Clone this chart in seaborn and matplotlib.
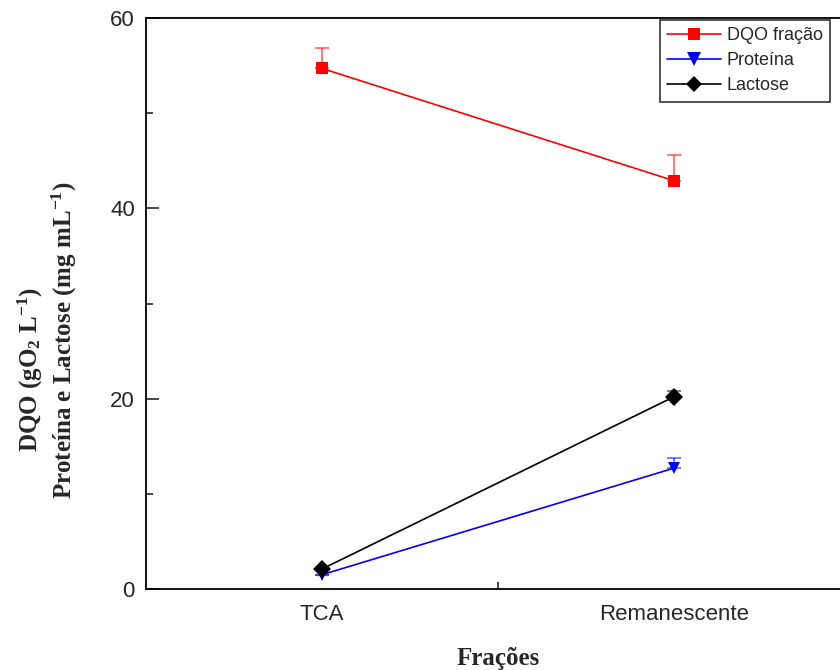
import numpy as np
import pandas as pd
import matplotlib.pyplot as plt
import seaborn as sns

fracoes = ["TCA", "Remanescente"]
dqo = [54.7, 42.9]
dqo_err = [2.1, 2.7]
proteina = [1.5, 12.7]
proteina_err = [0.0, 1.1]
lactose = [2.1, 20.2]
lactose_err = [0.0, 0.6]
series = ["DQO fração", "Proteína", "Lactose"]

df = pd.DataFrame({
    "Frações": fracoes * 3,
    "valor": dqo + proteina + lactose,
    "erro": dqo_err + proteina_err + lactose_err,
    "serie": np.repeat(series, 2),
})

sns.set_style("white")
plt.rcParams["font.family"] = ["Liberation Sans", "DejaVu Sans"]
plt.rcParams["mathtext.fontset"] = "custom"
plt.rcParams["mathtext.rm"] = "Liberation Serif:bold"
plt.rcParams["mathtext.bf"] = "Liberation Serif:bold"
plt.rcParams["mathtext.it"] = "Liberation Serif:bold"

colors = {"DQO fração": "#ff0000", "Proteína": "#0000ff", "Lactose": "#000000"}
markers = {"DQO fração": "s", "Proteína": "v", "Lactose": "D"}
sizes = {"DQO fração": 8.5, "Proteína": 10, "Lactose": 9}

fig = plt.figure(figsize=(8.4, 6.7), dpi=100)
ax = fig.add_axes([146 / 840, 1 - 589 / 670, 704 / 840, 571 / 670])

sns.lineplot(data=df, x="Frações", y="valor", hue="serie", style="serie",
             palette=colors, markers=markers, dashes=False, ax=ax,
             linewidth=1.2, markersize=9, markeredgewidth=0, legend=False)

# one-sided error bars
for s in series:
    sub = df[df["serie"] == s]
    xs = np.arange(len(sub))
    ax.errorbar(xs, sub["valor"], yerr=[np.zeros(len(sub)), sub["erro"]],
                fmt="none", ecolor=colors[s], alpha=0.5, capsize=5,
                elinewidth=1.5, capthick=1.5, zorder=1)

# legend handles
handles = [plt.Line2D([], [], color=colors[s], marker=markers[s],
                      markersize=sizes[s] - 0.5, markeredgewidth=0, lw=1.2)
           for s in series]
leg = fig.legend(handles, series, loc="upper left",
                 bbox_to_anchor=(660 / 840, 1 - 20 / 670), frameon=True,
                 fontsize=13, handlelength=3.0, borderpad=0.4, labelspacing=0.45,
                 handletextpad=0.3, fancybox=False, borderaxespad=0)
leg.get_frame().set_edgecolor("black")
leg.get_frame().set_linewidth(1.2)

ax.set_xlim(-0.5, 1.5)
ax.set_ylim(0, 60)
ax.set_yticks([0, 20, 40, 60])
ax.set_yticks([10, 30, 50], minor=True)
ax.set_xticks([0, 1])
ax.set_xticks([0.5], minor=True)
ax.set_xticklabels(fracoes)
ax.tick_params(axis="y", which="major", direction="in", left=True, length=9,
               width=1.2, labelsize=16, pad=8)
ax.tick_params(axis="y", which="minor", direction="in", left=True, length=5,
               width=1.2)
ax.tick_params(axis="x", which="major", bottom=False, labelsize=16, pad=7)
ax.tick_params(axis="x", which="minor", direction="in", bottom=True, length=5,
               width=1.2)
for sp in ax.spines.values():
    sp.set_color("black")
    sp.set_linewidth(1.3)

ax.set_ylabel("")
ax.set_xlabel("Frações", fontfamily="Liberation Serif", fontweight="bold",
              fontsize=18, labelpad=16)
fig.text(30 / 840, 1 - 370 / 670, "DQO (gO$_{2}$ L$^{-1}$)",
         rotation=90, ha="center", va="center", fontfamily="Liberation Serif",
         fontweight="bold", fontsize=18)
fig.text(64 / 840, 1 - 340 / 670,
         "Proteína e Lactose (mg mL$^{-1}$)",
         rotation=90, ha="center", va="center", fontfamily="Liberation Serif",
         fontweight="bold", fontsize=18)

fig.savefig("out.png", dpi=100)
